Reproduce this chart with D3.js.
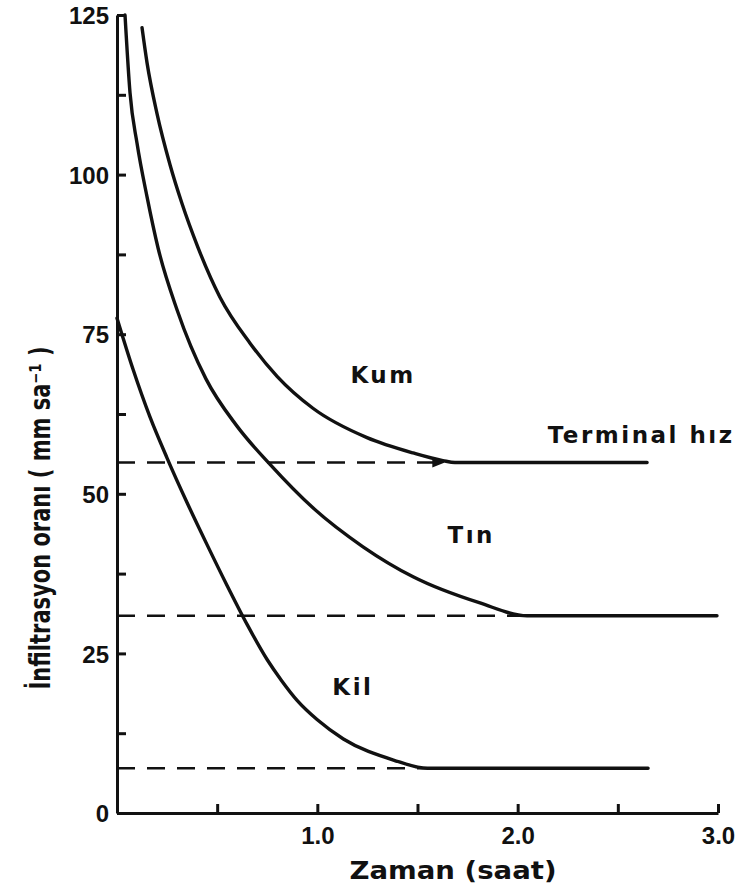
<!DOCTYPE html>
<html>
  <head>
    <meta charset="utf-8">
    <title>Infiltrasyon</title>
    <style>
      body { margin: 0; background: #fff; }
      svg text { fill: #111; }
    </style>
  </head>
  <body>
    <div id="chart"></div>
    <script src="https://d3js.org/d3.v7.min.js"></script>
    <script>
      // curves: time (saat) and rate (mm/sa)
      var kumT = [0.125, 0.150, 0.200, 0.265, 0.324, 0.404, 0.514, 0.664, 0.799, 0.978, 1.248, 1.478, 1.627, 1.687, 2.646];
      var kumV = [123.0, 117.5, 109.5, 101.5, 95.5, 88.6, 80.8, 73.6, 68.4, 63.4, 58.8, 56.4, 55.2, 54.9, 54.9];

      var tinT = [0.040, 0.065, 0.100, 0.150, 0.205, 0.300, 0.444, 0.599, 0.764, 0.978, 1.228, 1.478, 1.812, 2.047, 2.995];
      var tinV = [125.0, 112.8, 104.9, 96.5, 88.5, 78.8, 68.0, 60.6, 54.6, 47.8, 41.7, 37.0, 32.9, 30.9, 30.9];

      var kilT = [0, 0.08, 0.165, 0.25, 0.35, 0.45, 0.55, 0.65, 0.75, 0.82, 0.90, 1.00, 1.13, 1.38, 1.55, 2.651];
      var kilV = [77.5, 69.5, 62.0, 55.6, 48.6, 42.0, 35.6, 29.5, 24.0, 20.8, 17.6, 14.6, 11.6, 8.3, 7.0, 7.0];

      // terminal rates (dashed) and where the dashes stop
      var termV   = [54.9, 30.9, 7.0];
      var termEnd = [1.63, 2.047, 1.55];

      var yTicks  = [0, 25, 50, 75, 100, 125];
      var yMinor  = [12.5, 37.5, 62.5, 87.5, 112.5];
      var xTicks  = [0.5, 1.0, 1.5, 2.0, 2.5, 3.0];
      var xLabels = [1.0, 2.0, 3.0];

      var labelText = ["Kum", "Terminal hız", "Tın", "Kil"];
      var labelT    = [1.165, 2.15, 1.65, 1.075];
      var labelV    = [67.4, 58.0, 42.3, 18.5];

      var W = 737, H = 888;
      var margin = { top: 15, left: 117 };
      var width  = 601,
          height = 798;

      var x = d3.scaleLinear().domain([0, 3]).range([0, width]);
      var y = d3.scaleLinear().domain([0, 125]).range([height, 0]);

      var svg = d3.select("#chart").append("svg")
          .attr("width", W)
          .attr("height", H)
          .style("font-family", "'DejaVu Sans Condensed', 'DejaVu Sans', sans-serif");

      svg.append("rect").attr("width", W).attr("height", H).attr("fill", "#fff");

      var defs = svg.append("defs");
      defs.append("marker")
          .attr("id", "arrow")
          .attr("viewBox", "0 0 10 10")
          .attr("refX", 9).attr("refY", 5)
          .attr("markerWidth", 5).attr("markerHeight", 5)
          .attr("markerUnits", "strokeWidth")
          .attr("orient", "auto")
        .append("path")
          .attr("d", "M0,1 L10,5 L0,9 Z")
          .attr("fill", "#111");

      var g = svg.append("g")
          .attr("transform", "translate(" + margin.left + "," + margin.top + ")");

      // dashed terminal lines
      g.selectAll(".term")
          .data(termV)
          .enter().append("line")
          .attr("class", "term")
          .attr("x1", x(0))
          .attr("x2", function(d, i) { return x(termEnd[i]); })
          .attr("y1", function(d) { return y(d); })
          .attr("y2", function(d) { return y(d); })
          .attr("stroke", "#111")
          .attr("stroke-width", 2.5)
          .attr("stroke-dasharray", "18,12")
          .attr("marker-end", function(d, i) { return i == 0 ? "url(#arrow)" : null; });

      // curves
      var line = d3.line()
          .x(function(d) { return x(d[0]); })
          .y(function(d) { return y(d[1]); })
          .curve(d3.curveMonotoneX);

      var series = [d3.zip(kumT, kumV), d3.zip(tinT, tinV), d3.zip(kilT, kilV)];
      g.selectAll(".curve")
          .data(series)
          .enter().append("path")
          .attr("class", "curve")
          .attr("d", line)
          .attr("fill", "none")
          .attr("stroke", "#111")
          .attr("stroke-width", 3.4)
          .attr("stroke-linecap", "round");

      // y axis, ticks pointing inward
      var yAxis = d3.axisLeft(y).tickValues(yTicks).tickSize(-9).tickPadding(8).tickSizeOuter(0);
      var gY = g.append("g").call(yAxis);
      gY.selectAll(".tick text")
          .style("font-size", "24px")
          .style("font-weight", "bold")
          .attr("dy", "0.36em");
      g.append("g")
          .call(d3.axisLeft(y).tickValues(yMinor).tickSize(-9).tickFormat("").tickSizeOuter(0))
          .select(".domain").remove();

      // x axis
      var xAxis = d3.axisBottom(x).tickValues(xTicks).tickSize(-9).tickPadding(14).tickSizeOuter(0)
          .tickFormat(function(d) { return xLabels.indexOf(d) >= 0 ? d3.format(".1f")(d) : ""; });
      var gX = g.append("g")
          .attr("transform", "translate(0," + height + ")")
          .call(xAxis);
      gX.selectAll(".tick text")
          .style("font-size", "24px")
          .style("font-weight", "bold");

      svg.selectAll(".domain, .tick line")
          .attr("stroke", "#111")
          .attr("stroke-width", 3);

      // curve names
      g.selectAll(".lbl")
          .data(labelText)
          .enter().append("text")
          .attr("class", "lbl")
          .attr("x", function(d, i) { return x(labelT[i]); })
          .attr("y", function(d, i) { return y(labelV[i]); })
          .style("font-family", "'DejaVu Sans', sans-serif")
          .style("font-size", "23px")
          .style("font-weight", "bold")
          .style("letter-spacing", "2.5px")
          .text(function(d) { return d; });

      // axis titles
      svg.append("text")
          .attr("transform", "translate(50,518)rotate(-90)")
          .attr("text-anchor", "middle")
          .attr("textLength", 343)
          .attr("lengthAdjust", "spacingAndGlyphs")
          .style("font-size", "28px")
          .style("font-weight", "bold")
          .text("İnfiltrasyon oranı ( mm sa⁻¹ )");

      svg.append("text")
          .attr("x", 453)
          .attr("y", 879)
          .attr("text-anchor", "middle")
          .attr("textLength", 207)
          .attr("lengthAdjust", "spacingAndGlyphs")
          .style("font-size", "25px")
          .style("font-weight", "bold")
          .text("Zaman (saat)");
    </script>
  </body>
</html>
